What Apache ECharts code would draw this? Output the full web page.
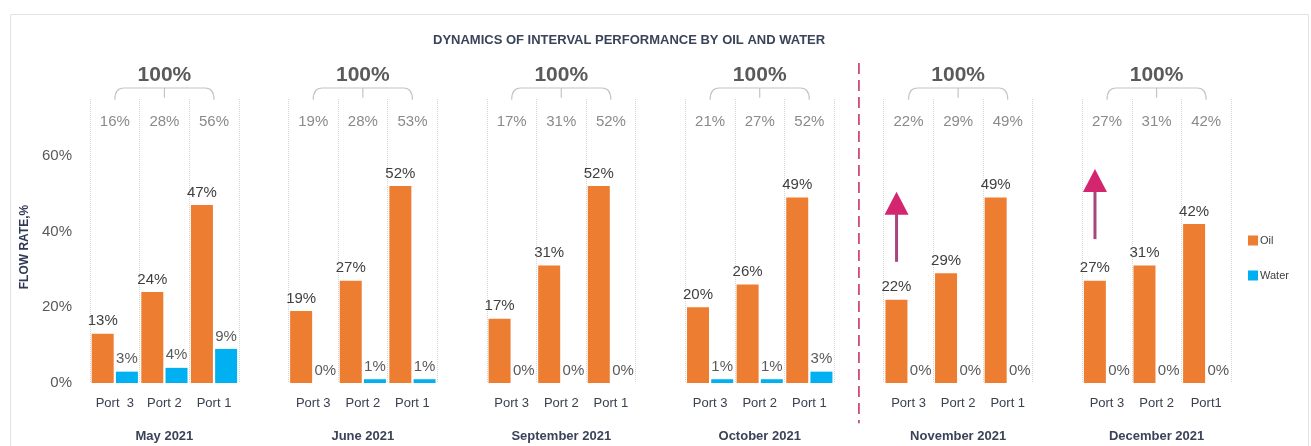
<!DOCTYPE html>
<html>
<head>
<meta charset="utf-8">
<script src="https://cdn.jsdelivr.net/npm/echarts@6/dist/echarts.min.js"></script>
<style>
  html, body { margin: 0; padding: 0; background: #fff; }
  #chart { width: 1311px; height: 446px; }
</style>
</head>
<body>
<div id="chart"></div>
<script>
// data
var months = ['May 2021', 'June 2021', 'September 2021', 'October 2021', 'November 2021', 'December 2021'];
var portLabels = [
  ['Port  3', 'Port 2', 'Port 1'],
  ['Port 3', 'Port 2', 'Port 1'],
  ['Port 3', 'Port 2', 'Port 1'],
  ['Port 3', 'Port 2', 'Port 1'],
  ['Port 3', 'Port 2', 'Port 1'],
  ['Port 3', 'Port 2', 'Port1']
];
var oil   = [[13, 24, 47], [19, 27, 52], [17, 31, 52], [20, 26, 49], [22, 29, 49], [27, 31, 42]];
var water = [[3, 4, 9], [0, 1, 1], [0, 0, 0], [1, 1, 3], [0, 0, 0], [0, 0, 0]];
var shares = [[16, 28, 56], [19, 28, 53], [17, 31, 52], [21, 27, 52], [22, 29, 49], [27, 31, 42]];
var totalLabel = '100%';
var yTicks = [0, 20, 40, 60];
// arrows: [month index, from value, to value]
var arrows = [[4, 32, 50.5], [5, 38, 56.5]];
var dividerAfterMonth = 3;

var barW = 22;
var SLOT = 4; // 3 ports + 1 empty slot between months

// build flat category arrays
var cats = [], monthCats = [], oilData = [], waterData = [];
months.forEach(function (m, i) {
  for (var p = 0; p < 3; p++) {
    cats.push(portLabels[i][p]);
    monthCats.push(p === 1 ? m : '');
    oilData.push(oil[i][p]);
    waterData.push(water[i][p]);
  }
  if (i < months.length - 1) {
    cats.push(''); monthCats.push(''); oilData.push('-'); waterData.push('-');
  }
});

var FONT = "'Liberation Sans', Arial, sans-serif";
var myChart = echarts.init(document.getElementById('chart'));

var option = {
  animation: false,
  textStyle: { fontFamily: FONT },
  title: {
    text: 'DYNAMICS OF INTERVAL PERFORMANCE BY OIL AND WATER',
    left: 428, top: 29,
    textStyle: { fontSize: 13, fontWeight: 'bold', color: '#3a4358', fontFamily: FONT }
  },
  graphic: [{
    type: 'rect', left: 8, top: 12, silent: true,
    shape: { width: 1298, height: 445 },
    style: { fill: 'none', stroke: '#e2e2e2', lineWidth: 1 }
  }],
  legend: {
    orient: 'vertical', left: 1243, top: 230, itemGap: 24,
    itemWidth: 10, itemHeight: 10, icon: 'rect',
    textStyle: { fontSize: 11, color: '#404040', padding: [4, 0, 0, -3] },
    data: ['Oil', 'Water']
  },
  grid: { left: 90, right: 80, top: 99, bottom: 63 },
  xAxis: [{
    type: 'category', data: cats,
    axisLine: { show: false }, axisTick: { show: false },
    axisLabel: { interval: 0, margin: 14, fontSize: 13, color: '#3b4050' },
    splitLine: { show: true, interval: 0, lineStyle: { type: 'dotted', color: '#d6d6d6', width: 1 } }
  }, {
    type: 'category', data: monthCats, position: 'bottom',
    axisLine: { show: false }, axisTick: { show: false },
    axisLabel: { interval: 0, margin: 47, fontSize: 13, fontWeight: 'bold', color: '#3a4358' },
    splitLine: { show: false }
  }],
  yAxis: {
    type: 'value', min: 0, max: 75, interval: 20,
    name: 'FLOW RATE,%', nameLocation: 'middle', nameGap: 54,
    nameTextStyle: { fontSize: 12, fontWeight: 'bold', color: '#2f3a56', padding: [0, 12, 0, 0] },
    axisLine: { show: false }, axisTick: { show: false },
    splitLine: { show: false },
    axisLabel: {
      margin: 18, fontSize: 15, color: '#595959',
      formatter: function (v) { return yTicks.indexOf(v) >= 0 ? v + '%' : ''; }
    }
  },
  series: [{
    name: 'Oil', type: 'bar', data: oilData, barWidth: barW, barGap: '10%',
    itemStyle: { color: '#ed7d31' },
    label: { show: true, position: 'top', distance: 5, fontSize: 15, color: '#404040', formatter: '{c}%' }
  }, {
    name: 'Water', type: 'bar', data: waterData, barWidth: barW,
    itemStyle: { color: '#00b0f0' },
    label: { show: true, position: 'top', distance: 5, fontSize: 15, color: '#5a5a5a', formatter: '{c}%' }
  }, {
    // braces, 100% and share labels above each month
    type: 'custom', clip: false, silent: true,
    data: months.map(function (m, i) { return [i * SLOT, i]; }),
    encode: { x: 0 },
    renderItem: function (params, api) {
      var i = api.value(1);
      var x3 = api.coord([i * SLOT, 0])[0];
      var x2 = api.coord([i * SLOT + 1, 0])[0];
      var x1 = api.coord([i * SLOT + 2, 0])[0];
      var yTop = api.coord([0, 77.9])[1];
      var yEnd = api.coord([0, 74.8])[1];
      var yTick = api.coord([0, 75.3])[1];
      var yTotal = api.coord([0, 81.4])[1];
      var yShare = api.coord([0, 69])[1];
      var r = 9;
      var d = 'M' + x3 + ' ' + yEnd + ' Q' + x3 + ' ' + yTop + ' ' + (x3 + r) + ' ' + yTop +
              ' L' + (x1 - r) + ' ' + yTop + ' Q' + x1 + ' ' + yTop + ' ' + x1 + ' ' + yEnd +
              ' M' + x2 + ' ' + yTop + ' L' + x2 + ' ' + yTick;
      var children = [{
        type: 'path', shape: { pathData: d },
        style: { fill: 'none', stroke: '#c4c4c4', lineWidth: 1.2 }
      }, {
        type: 'text',
        style: { text: totalLabel, x: x2, y: yTotal, align: 'center', verticalAlign: 'middle',
                 fontSize: 21, fontWeight: 'bold', fontFamily: FONT, fill: '#5a5a5a' }
      }];
      [x3, x2, x1].forEach(function (x, p) {
        children.push({
          type: 'text',
          style: { text: shares[i][p] + '%', x: x, y: yShare, align: 'center', verticalAlign: 'middle',
                   fontSize: 15, fontFamily: FONT, fill: '#8a8a8a' }
        });
      });
      return { type: 'group', children: children };
    }
  }, {
    // red dashed divider
    type: 'custom', clip: false, silent: true,
    data: [[dividerAfterMonth * SLOT + 3, 0]],
    encode: { x: 0 },
    renderItem: function (params, api) {
      var x = api.coord([api.value(0), 0])[0];
      var y0 = api.coord([0, 84.5])[1];
      var y1 = api.coord([0, -10.6])[1];
      return {
        type: 'line', shape: { x1: x, y1: y0, x2: x, y2: y1 },
        style: { stroke: '#c9345f', lineWidth: 1.6, lineDash: [11, 6] }
      };
    }
  }, {
    // magenta arrows over Port 3 oil bars
    type: 'custom', clip: false, silent: true,
    data: arrows.map(function (a) { return [a[0] * SLOT, a[1], a[2]]; }),
    encode: { x: 0 },
    renderItem: function (params, api) {
      var xc = api.coord([api.value(0), 0])[0] - (barW + 2) / 2;
      var yb = api.coord([0, api.value(1)])[1];
      var yt = api.coord([0, api.value(2)])[1];
      var hh = 23, hw = 12;
      return {
        type: 'group', children: [{
          type: 'line', shape: { x1: xc, y1: yb, x2: xc, y2: yt + hh - 1 },
          style: { stroke: '#a9457d', lineWidth: 3 }
        }, {
          type: 'polygon', shape: { points: [[xc, yt], [xc - hw, yt + hh], [xc + hw, yt + hh]] },
          style: { fill: '#d4266f' }
        }]
      };
    }
  }]
};

myChart.setOption(option);
</script>
</body>
</html>
